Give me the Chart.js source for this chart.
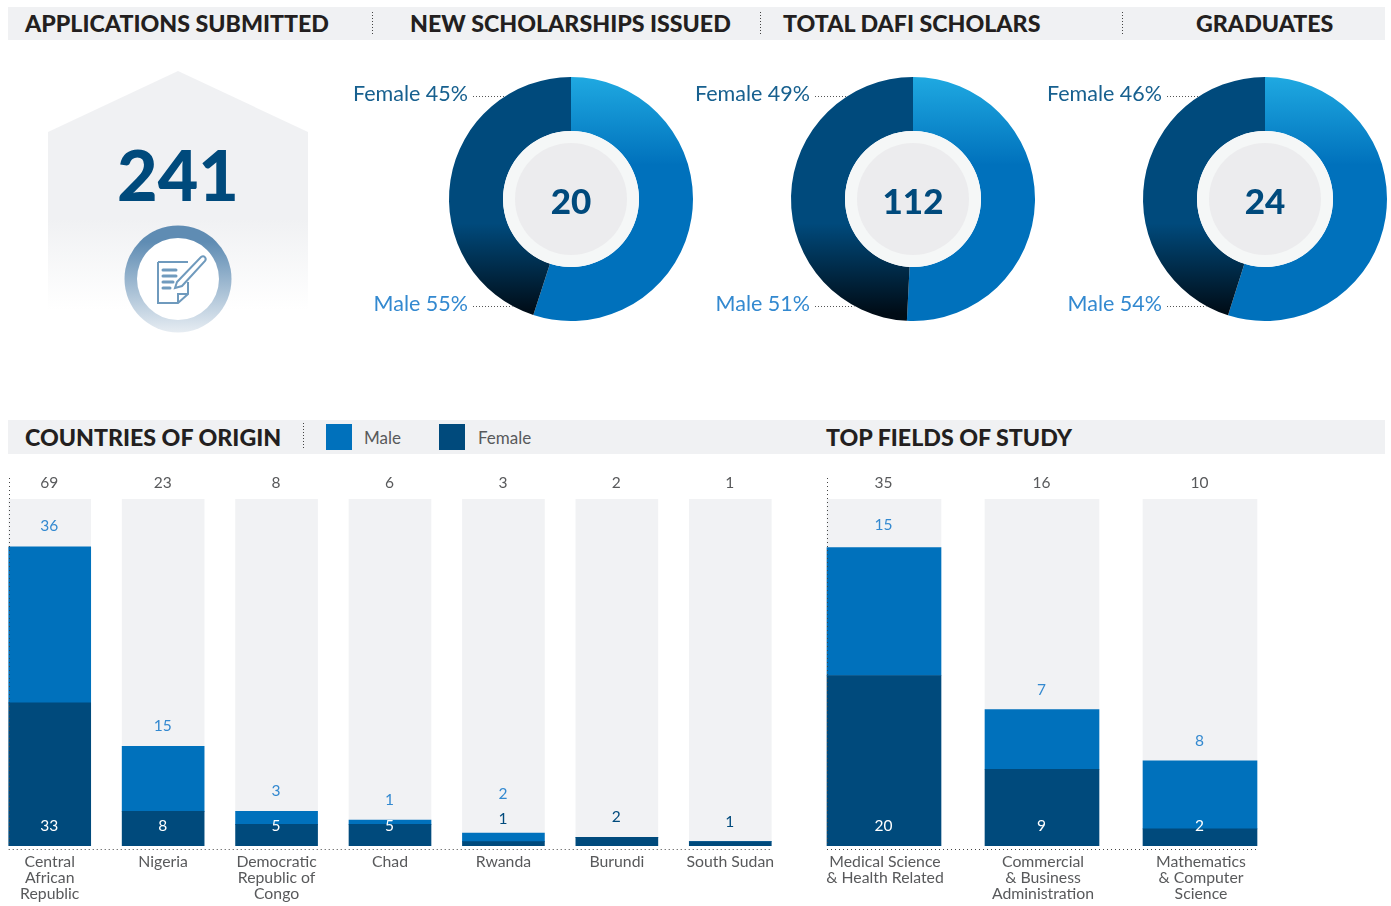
<!DOCTYPE html>
<html>
<head>
<meta charset="utf-8">
<title>DAFI scholars</title>
<script src="https://cdn.jsdelivr.net/npm/chart.js@4"></script>
<style>
  html, body { margin: 0; padding: 0; background: #fff; overflow: hidden; }
  #page { position: relative; width: 1391px; height: 906px; overflow: hidden; font-family: Lato, sans-serif; }
  .band { position: absolute; left: 8px; width: 1377px; height: 33px; background: #f0f1f3; }
  .head { position: absolute; font-weight: 900; font-size: 23.2px; line-height: 34px; color: #231f20; white-space: nowrap; }
  .sep { position: absolute; width: 1px; background: repeating-linear-gradient(to bottom, #444 0, #444 1px, transparent 1px, transparent 3px); }
  .swatch { position: absolute; top: 424px; width: 26px; height: 26px; }
  .legend { position: absolute; top: 428px; font-size: 17px; line-height: 20px; color: #58595b; }
  canvas { position: absolute; }
  svg { position: absolute; left: 0; top: 0; }
  #big { position: absolute; left: 78px; width: 200px; top: 132px; text-align: center; font-weight: 900; font-size: 70px; line-height: 84px; color: #004a7c; }
</style>
</head>
<body>
<div id="page">
  <div class="band" style="top:7px"></div>
  <div class="band" style="top:420px;height:34px"></div>

  <svg width="1391" height="906">
    <defs>
      <linearGradient id="houseFill" x1="0" y1="71" x2="0" y2="310" gradientUnits="userSpaceOnUse">
        <stop offset="0.62" stop-color="#f0f1f3"/>
        <stop offset="1" stop-color="#ffffff"/>
      </linearGradient>
      <linearGradient id="ringFill" x1="0" y1="226" x2="0" y2="332" gradientUnits="userSpaceOnUse">
        <stop offset="0.15" stop-color="#5f8cb3"/>
        <stop offset="1" stop-color="#e6ecf2"/>
      </linearGradient>
    </defs>
    <polygon points="178,71 308,132 308,312 48,312 48,132" fill="url(#houseFill)"/>
    <circle cx="178" cy="279" r="53.5" fill="url(#ringFill)"/>
    <circle cx="178" cy="279" r="41" fill="#fff"/>
    <!-- form and pen icon -->
    <g fill="none" stroke="#6f9abd" stroke-width="2">
      <path d="M158,262 h30 M158,262 v41 h20 l10,-9 v-12"/>
      <path d="M178,303 v-9 h10"/>
      <path d="M177,282 l24,-25 c3,-2 6,1 4,4 l-23,25 l-7,2 z"/>
    </g>
    <g stroke="#6f9abd" stroke-width="3" stroke-linecap="round">
      <line x1="163" y1="270" x2="176" y2="270"/>
      <line x1="163" y1="276" x2="176" y2="276"/>
      <line x1="163" y1="282" x2="173" y2="282"/>
      <line x1="163" y1="288" x2="170" y2="288"/>
    </g>
  </svg>

  <span class="head" style="left:25px;top:6px">APPLICATIONS SUBMITTED</span>
  <span class="head" style="left:410px;top:6px">NEW SCHOLARSHIPS ISSUED</span>
  <span class="head" style="left:783px;top:6px">TOTAL DAFI SCHOLARS</span>
  <span class="head" style="left:1196px;top:6px">GRADUATES</span>
  <span class="head" style="left:25px;top:420px">COUNTRIES OF ORIGIN</span>
  <span class="head" style="left:826px;top:420px">TOP FIELDS OF STUDY</span>
  <div class="sep" style="left:372px;top:12px;height:22px"></div>
  <div class="sep" style="left:760px;top:12px;height:22px"></div>
  <div class="sep" style="left:1122px;top:12px;height:22px"></div>
  <div class="sep" style="left:303px;top:423px;height:27px"></div>
  <div class="swatch" style="left:326px;background:#0071bc"></div>
  <span class="legend" style="left:364px">Male</span>
  <div class="swatch" style="left:439px;background:#004a7c"></div>
  <span class="legend" style="left:478px">Female</span>

  <div id="big">241</div>

  <canvas id="donut1" style="left:333px;top:77px;width:360px;height:244px"></canvas>
  <canvas id="donut2" style="left:675px;top:77px;width:360px;height:244px"></canvas>
  <canvas id="donut3" style="left:1027px;top:77px;width:360px;height:244px"></canvas>
  <canvas id="countries" style="left:-7px;top:470px;width:794px;height:436px"></canvas>
  <canvas id="fields" style="left:805px;top:470px;width:474px;height:436px"></canvas>
</div>

<script>
// Doughnut values
const donutTotals = [20, 112, 24];
const donutMale = [55, 51, 54];
const donutFemale = [45, 49, 46];
// Slice sizes as drawn in the picture, they differ a little from the printed percentages
const donutMaleDrawn = [55, 50.8, 54.9];
const donutFemaleDrawn = [45, 49.2, 45.1];

// Countries of origin
const countries = [['Central', 'African', 'Republic'], 'Nigeria', ['Democratic', 'Republic of', 'Congo'], 'Chad', 'Rwanda', 'Burundi', 'South Sudan'];
const countryTotals = [69, 23, 8, 6, 3, 2, 1];
const countryMale = [36, 15, 3, 1, 2, 0, 0];
const countryFemale = [33, 8, 5, 5, 1, 2, 1];
const countryMax = 80;

// Top fields of study
const fields = [['Medical Science', '& Health Related'], ['Commercial', '& Business', 'Administration'], ['Mathematics', '& Computer', 'Science']];
const fieldTotals = [35, 16, 10];
const fieldMale = [15, 7, 8];
const fieldFemale = [20, 9, 2];
const fieldMax = 40.7;

const BLUE = '#0071bc';
const NAVY = '#004a7c';
const FONT = 'Lato, sans-serif';

Chart.defaults.animation = false;
Chart.defaults.events = [];
Chart.defaults.plugins.legend.display = false;
Chart.defaults.plugins.tooltip.enabled = false;

// Hole circles, centre number and the dotted callouts of a doughnut
const donutDecor = {
  id: 'donutDecor',
  afterDatasetsDraw(chart, args, opts) {
    const arc = chart.getDatasetMeta(0).data[0];
    const { x, y, outerRadius } = arc;
    const c = chart.ctx;
    c.save();
    c.fillStyle = '#f5f7f7';
    c.beginPath(); c.arc(x, y, arc.innerRadius, 0, Math.PI * 2); c.fill();
    c.fillStyle = '#ececee';
    c.beginPath(); c.arc(x, y, 56, 0, Math.PI * 2); c.fill();

    c.textAlign = 'center';
    c.textBaseline = 'middle';
    c.fillStyle = NAVY;
    c.font = '900 35px ' + FONT;
    c.fillText(opts.total, x, y + 4);

    const rows = [
      { text: 'Female ' + opts.female + '%', dy: -103, color: '#17608f' },
      { text: 'Male ' + opts.male + '%', dy: 107, color: '#3389d0' }
    ];
    rows.forEach(r => {
      c.textAlign = 'right';
      c.font = '400 21.5px ' + FONT;
      c.fillStyle = r.color;
      c.fillText(r.text, x - 103, y + r.dy - 2);
      const endX = x - Math.sqrt(outerRadius * outerRadius - r.dy * r.dy);
      c.strokeStyle = '#555';
      c.lineWidth = 1;
      c.setLineDash([1, 2]);
      c.beginPath();
      c.moveTo(x - 98, y + r.dy + 0.5);
      c.lineTo(endX, y + r.dy + 0.5);
      c.stroke();
      c.setLineDash([]);
    });
    c.restore();
  }
};

// Male slice fades in from light blue at the top, female slice sinks to near black at the bottom
function sliceFill(ctx) {
  const area = ctx.chart.chartArea;
  if (!area) return ctx.dataIndex === 0 ? BLUE : NAVY;
  const g = ctx.chart.ctx.createLinearGradient(0, area.top, 0, area.bottom);
  if (ctx.dataIndex === 0) {
    g.addColorStop(0, '#1fa9e1');
    g.addColorStop(0.36, BLUE);
    g.addColorStop(1, BLUE);
  } else {
    g.addColorStop(0, NAVY);
    g.addColorStop(0.6, NAVY);
    g.addColorStop(0.97, '#000c16');
    g.addColorStop(1, '#000c16');
  }
  return g;
}

function makeDonut(id, i) {
  new Chart(document.getElementById(id), {
    type: 'doughnut',
    data: {
      labels: ['Male', 'Female'],
      datasets: [{
        data: [donutMaleDrawn[i], donutFemaleDrawn[i]],
        backgroundColor: sliceFill,
        borderWidth: 0
      }]
    },
    options: {
      responsive: false,
      radius: 122,
      cutout: 68,
      layout: { padding: { left: 116 } },
      plugins: { donutDecor: { total: donutTotals[i], male: donutMale[i], female: donutFemale[i] } }
    },
    plugins: [donutDecor]
  });
}

// Totals on top, value labels and the dotted axis lines of the bar charts
const barDecor = {
  id: 'barDecor',
  afterDatasetsDraw(chart, args, opts) {
    const c = chart.ctx;
    const area = chart.chartArea;
    const female = chart.getDatasetMeta(0).data;
    const male = chart.getDatasetMeta(1).data;
    const femaleData = chart.data.datasets[0].data;
    const maleData = chart.data.datasets[1].data;
    const nudge = opts.nudge || {};

    c.save();
    c.textAlign = 'center';
    c.textBaseline = 'middle';
    c.font = '400 15.5px ' + FONT;

    female.forEach((bar, i) => {
      const x = bar.x - 0.5;
      const stackTop = maleData[i] > 0 ? male[i].y : bar.y;
      const n = nudge[i] || {};

      c.fillStyle = '#58595b';
      c.fillText(opts.totals[i], x, area.top - 16);

      if (maleData[i] > 0) {
        c.fillStyle = '#3389d0';
        c.fillText(maleData[i], x, stackTop - 20 + (n.male || 0));
      }
      // short bars carry their label above the bar
      if (bar.base - bar.y >= 12) {
        c.fillStyle = '#fff';
        c.fillText(femaleData[i], x, area.bottom - 20);
      } else {
        c.fillStyle = NAVY;
        c.fillText(femaleData[i], x, stackTop - 20 + (n.female || 0));
      }
    });

    const first = female[0];
    const last = female[female.length - 1];
    const left = first.x - first.width / 2;
    const right = last.x + last.width / 2;
    c.strokeStyle = '#444';
    c.lineWidth = 1;
    c.setLineDash([1, 3]);
    c.beginPath();
    c.moveTo(Math.round(left) + 0.5, area.top - 21);
    c.lineTo(Math.round(left) + 0.5, area.bottom);
    c.moveTo(left, area.bottom + 3.5);
    c.lineTo(right + 1, area.bottom + 3.5);
    c.stroke();
    c.restore();
  }
};

function makeBars(id, labels, femaleVals, maleVals, totals, max, thickness, tickShift, nudge) {
  const rest = femaleVals.map((f, i) => max - f - maleVals[i]);
  new Chart(document.getElementById(id), {
    type: 'bar',
    data: {
      labels: labels,
      datasets: [
        { label: 'Female', data: femaleVals, backgroundColor: NAVY, barThickness: thickness },
        { label: 'Male', data: maleVals, backgroundColor: BLUE, barThickness: thickness },
        { label: 'Rest', data: rest, backgroundColor: '#f1f2f4', barThickness: thickness }
      ]
    },
    options: {
      responsive: false,
      layout: { padding: { top: 29 } },
      scales: {
        x: {
          stacked: true,
          grid: { display: false },
          border: { display: false },
          afterFit(scale) { scale.height = 60; },
          ticks: {
            autoSkip: false,
            maxRotation: 0,
            padding: 0,
            labelOffset: tickShift,
            color: '#58595b',
            font: { family: FONT, size: 15.8, lineHeight: 16 / 15.8 }
          }
        },
        y: { stacked: true, display: false, min: 0, max: max }
      },
      plugins: { barDecor: { totals: totals, nudge: nudge } }
    },
    plugins: [barDecor]
  });
}

makeDonut('donut1', 0);
makeDonut('donut2', 1);
makeDonut('donut3', 2);
makeBars('countries', countries, countryFemale, countryMale, countryTotals, countryMax, 82, 0, { 0: { male: -1 }, 4: { male: -19, female: 6 } });
makeBars('fields', fields, fieldFemale, fieldMale, fieldTotals, fieldMax, 114, 1, { 0: { male: -3 } });
</script>
</body>
</html>
